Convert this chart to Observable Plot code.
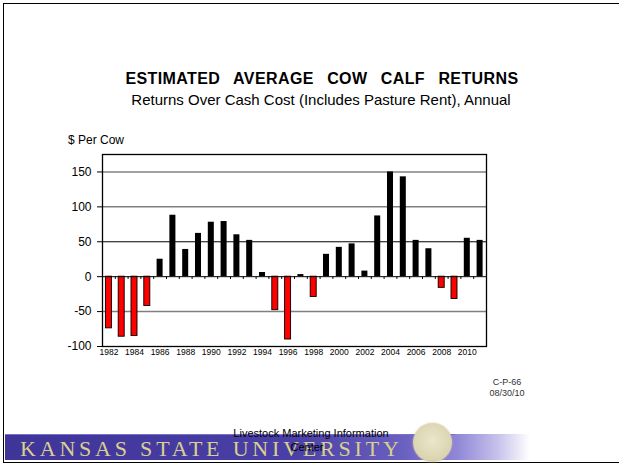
<!DOCTYPE html>
<html>
<head>
<meta charset="utf-8">
<script src="https://cdn.jsdelivr.net/npm/d3@7"></script>
<script src="https://cdn.jsdelivr.net/npm/@observablehq/plot@0.6"></script>
<style>
  html, body { margin: 0; padding: 0; background: #fff; }
  #page { position: relative; width: 619px; height: 465px; overflow: hidden; font-family: "Liberation Sans", Arial, sans-serif; }
  #page svg { position: absolute; left: 0; top: 0; }
  .abs { position: absolute; white-space: nowrap; }
  #border { position: absolute; left: 3px; top: 3px; width: 640px; height: 458px; border-left: 1.6px solid #000; border-top: 1.6px solid #000; border-bottom: 1.6px solid #000; }
  #title { left: 0; width: 644px; top: 70px; text-align: center; font-weight: bold; font-size: 16px; letter-spacing: 0.4px; word-spacing: 8.5px; }
  #subtitle { left: 0; width: 642px; top: 91px; text-align: center; font-size: 15px; }
  #ylabel { left: 68px; top: 133px; font-size: 12px; }
  #code { left: 457px; width: 100px; top: 377px; text-align: center; font-size: 9px; line-height: 10.5px; color: #333; }
  #band { left: 5px; top: 434px; width: 525px; height: 26px; background: linear-gradient(to right, #3f3498 0%, #4a3fa6 55%, #6a60c0 76%, #8f86d6 86%, #c8c3ec 94%, #ffffff 100%); }
  #bandtop { left: 5px; top: 434px; width: 450px; height: 1px; background: #7a70c8; }
  #ksu { left: 20px; top: 436px; font-family: "Liberation Serif", "DejaVu Serif", serif; font-size: 22px; letter-spacing: 3.8px; color: #d8d08e; }
  #seal { left: 413px; top: 423px; width: 39px; height: 39px; border-radius: 50%; background: radial-gradient(circle at 50% 45%, #ebe6cc 0%, #ddd6b4 60%, #cfc6a0 100%); box-shadow: 0 0 2px #cfc79d; }
  #lmic1 { left: 211px; width: 200px; top: 427px; text-align: center; font-size: 11px; color: #000; }
  #lmic2 { left: 207px; width: 200px; top: 441px; text-align: center; font-size: 11px; color: #000; }
  svg [aria-label^="x-axis"] text { font-size: 8.5px; }
  svg [aria-label^="y-axis"] text { font-size: 12px; }
</style>
</head>
<body>
<div id="page">
  <div id="border"></div>
  <div class="abs" id="title">ESTIMATED AVERAGE COW CALF RETURNS</div>
  <div class="abs" id="subtitle">Returns Over Cash Cost (Includes Pasture Rent), Annual</div>
  <div class="abs" id="ylabel">$ Per Cow</div>
  <div class="abs" id="code">C-P-66<br>08/30/10</div>
  <div class="abs" id="band"></div>
  <div class="abs" id="bandtop"></div>
  <div class="abs" id="ksu">KANSAS STATE UNIVERSITY</div>
  <div class="abs" id="seal"></div>
  <div class="abs" id="lmic1">Livestock Marketing Information</div>
  <div class="abs" id="lmic2">Center</div>
</div>
<script>
// Data
const years = [1982, 1983, 1984, 1985, 1986, 1987, 1988, 1989, 1990, 1991,
               1992, 1993, 1994, 1995, 1996, 1997, 1998, 1999, 2000, 2001,
               2002, 2003, 2004, 2005, 2006, 2007, 2008, 2009, 2010, 2011];
const returns = [-74, -86, -85, -42, 25, 88, 39, 62, 78, 79,
                 60, 52, 6, -48, -90, 3, -29, 32, 42, 47,
                 8, 87, 150, 143, 52, 40, -16, -32, 55, 52];
const yTicks = [-100, -50, 0, 50, 100, 150];
const xTickYears = [1982, 1984, 1986, 1988, 1990, 1992, 1994, 1996, 1998, 2000, 2002, 2004, 2006, 2008, 2010];
const grayGrid = [150, 100, -50];
const blackGrid = [50];
const yDomain = [-100, 175];
const halfBar = 0.235;
const tickDepth = -4;

const data = years.map((year, i) => ({year, value: returns[i]}));
const neg = data.filter(d => d.value < 0);
const pos = data.filter(d => d.value >= 0);
const boundaries = years.slice(0, -1).map(y => y + 0.5);

const chart = Plot.plot({
  width: 619,
  height: 465,
  marginLeft: 102,
  marginRight: 133,
  marginTop: 154,
  marginBottom: 119,
  style: {background: "transparent", fontFamily: "'Liberation Sans', Arial, sans-serif", fontSize: "12px", color: "#000", overflow: "visible"},
  x: {domain: [years[0] - 0.5, years[years.length - 1] + 0.5], ticks: xTickYears, tickFormat: d => String(d), tickSize: 0, tickPadding: 2, label: null},
  y: {domain: yDomain, ticks: yTicks, tickFormat: d => String(d), tickSize: 5, tickPadding: 6, label: null},
  marks: [
    Plot.ruleY(grayGrid, {stroke: "#808080", strokeWidth: 1.5}),
    Plot.ruleY(blackGrid, {stroke: "#000", strokeWidth: 1}),
    Plot.rectY(pos, {x1: d => d.year - halfBar, x2: d => d.year + halfBar, y1: 0, y2: "value", fill: "#000"}),
    Plot.rectY(neg, {x1: d => d.year - halfBar, x2: d => d.year + halfBar, y1: 0, y2: "value", fill: "#ff0000", stroke: "#000", strokeWidth: 0.9}),
    Plot.ruleY([0], {stroke: "#000", strokeWidth: 1}),
    Plot.ruleX(boundaries, {x: d => d, y1: 0, y2: tickDepth, stroke: "#000", strokeWidth: 1}),
    Plot.frame({stroke: "#000", strokeWidth: 1.3})
  ]
});
document.getElementById("page").insertBefore(chart, document.getElementById("title"));
</script>
</body>
</html>
